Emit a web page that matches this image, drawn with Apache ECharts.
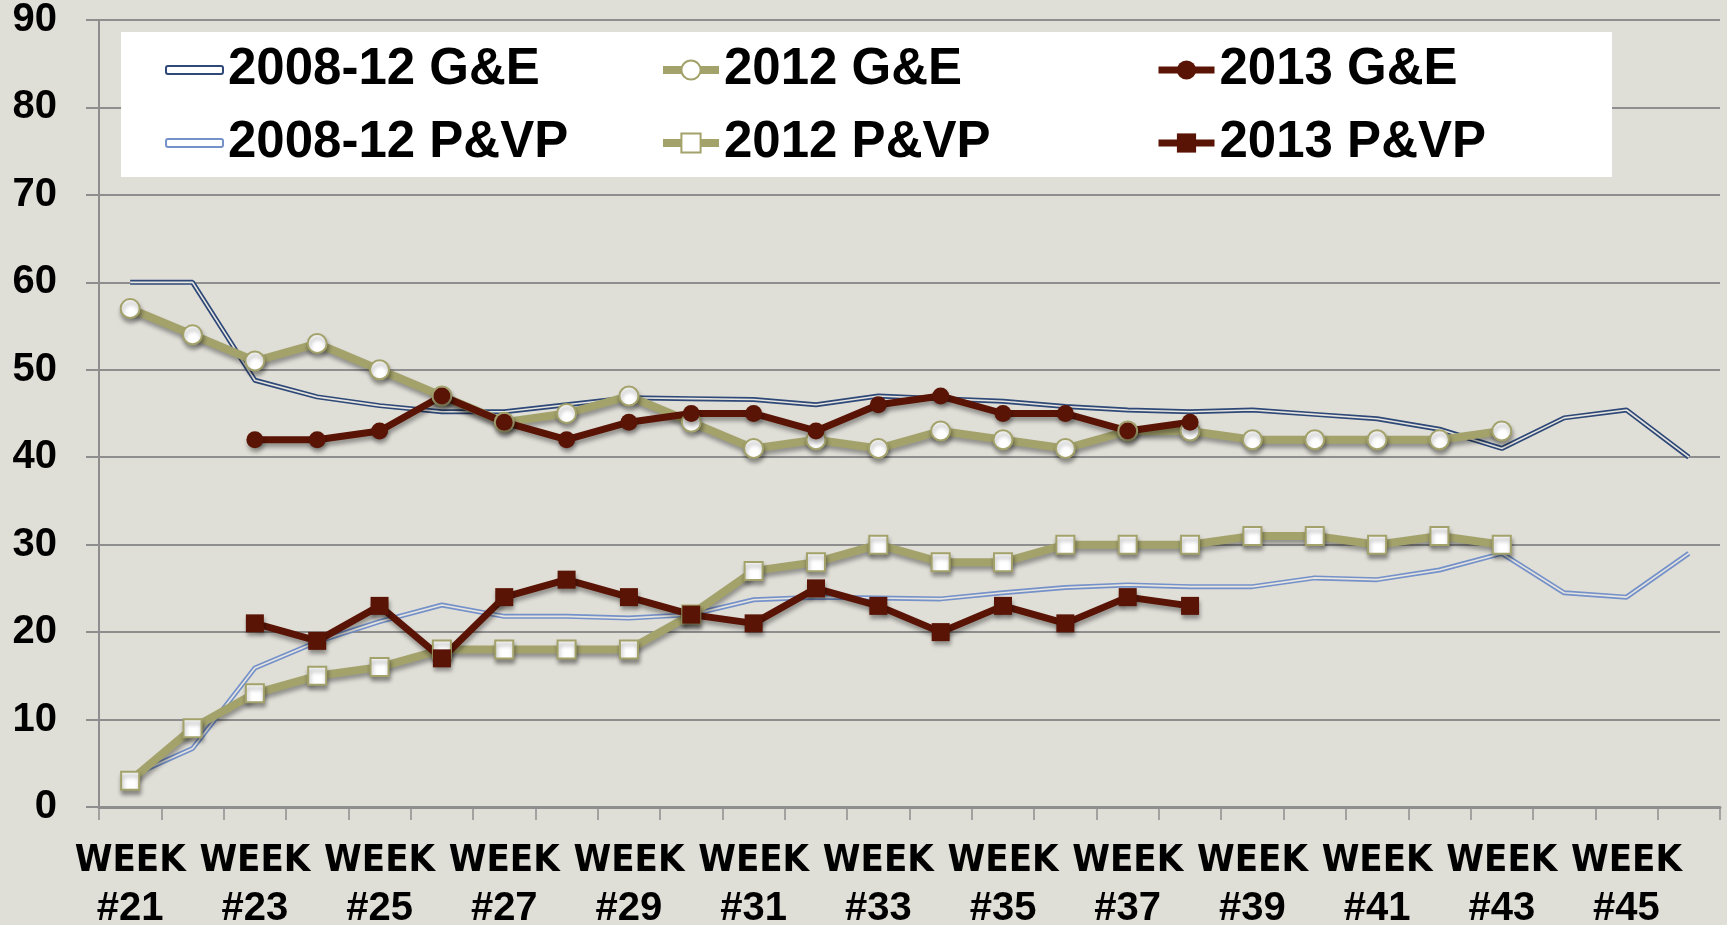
<!DOCTYPE html>
<html lang="en">
<head>
    <meta charset="UTF-8">
    <title>G&E vs P&VP by week</title>
    <script src="https://cdn.jsdelivr.net/npm/echarts@6/dist/echarts.min.js"></script>
    <style>
        html, body { margin: 0; padding: 0; background: #DFDED7; }
    </style>
</head>
<body>
    <div id="main" style="width: 1727px; height: 925px;"></div>
</body>
</html>

<script>
    var dom = document.querySelector('#main')
    var myChart = echarts.init(dom)

    // weeks #21 .. #46
    var weeks = []
    for (var w = 21; w <= 46; w++) weeks.push('WEEK #' + w)

    var ge0812 = [60, 60, 48.8, 46.9, 45.9, 45.2, 45.2, 46.0, 46.8, 46.7, 46.6, 46.0, 47.0, 46.7, 46.4, 45.8, 45.4, 45.2, 45.4, 44.9, 44.4, 43.2, 41.0, 44.5, 45.4, 40.0]
    var pvp0812 = [3.5, 6.7, 15.9, 18.9, 21.2, 23.1, 21.8, 21.8, 21.6, 22.0, 23.7, 24.0, 23.9, 23.8, 24.5, 25.1, 25.4, 25.2, 25.2, 26.2, 26.0, 27.1, 29.0, 24.5, 24.0, 29.0]
    var ge2012 = [57, 54, 51, 53, 50, 47, 44, 45, 47, 44, 41, 42, 41, 43, 42, 41, 43, 43, 42, 42, 42, 42, 43, '-', '-', '-']
    var pvp2012 = [3, 9, 13, 15, 16, 18, 18, 18, 18, 22, 27, 28, 30, 28, 28, 30, 30, 30, 31, 31, 30, 31, 30, '-', '-', '-']
    var ge2013 = ['-', '-', 42, 42, 43, 47, 44, 42, 44, 45, 45, 43, 46, 47, 45, 45, 43, 44, '-', '-', '-', '-', '-', '-', '-', '-']
    var pvp2013 = ['-', '-', 21, 19, 23, 17, 24, 26, 24, 22, 21, 25, 23, 20, 23, 21, 24, 23, '-', '-', '-', '-', '-', '-', '-', '-']

    var bg = '#DFDED7'
    var navy = '#2E4877'
    var lightBlue = '#7591C9'
    var olive = '#A3A26B'
    var maroon = '#5A1405'
    var gridGray = '#8E8E8E'
    var font = 'Liberation Sans, Arial, sans-serif'
    var narrow = 'DejaVu Sans Condensed, Liberation Sans, sans-serif'

    var shadow = { shadowColor: 'rgba(0,0,0,0.35)', shadowBlur: 4, shadowOffsetX: 1, shadowOffsetY: 4 }

    // the 2008-12 lines look like a hollow double line: wide stroke + thin inner stroke
    function hollowLine(name, data, color) {
        return [{
            name: name, type: 'line', data: data, symbol: 'none',
            lineStyle: { color: color, width: 5 }, itemStyle: { color: color },
            silent: true
        }, {
            name: name + ' inner', type: 'line', data: data, symbol: 'none',
            lineStyle: { color: '#E6E5DF', width: 1.6 }, silent: true
        }]
    }

    var legendText = { fontFamily: font, fontWeight: 'bold', fontSize: 51, color: '#000', lineHeight: 52 }

    function legendCol(left, names) {
        return {
            orient: 'vertical', left: left, top: 44, padding: 0,
            itemWidth: 56, itemHeight: 24, itemGap: 21,
            data: names,
            selectedMode: false,
            lineStyle: { width: 'inherit' },
            textStyle: legendText,
            z: 6
        }
    }

    var option = {
        backgroundColor: bg,
        animation: false,
        graphic: [{
            type: 'rect', left: 121, top: 32, z: 3,
            shape: { width: 1491, height: 145 },
            style: { fill: '#fff' }
        }],
        legend: [
            {
                orient: 'vertical', left: 165, top: 44, padding: 0,
                itemWidth: 57, itemHeight: 8, itemGap: 21, selectedMode: false,
                data: [
                    { name: '2008-12 G&E', icon: 'roundRect', itemStyle: { color: '#fff', borderColor: navy, borderWidth: 2 } },
                    { name: '2008-12 P&VP', icon: 'roundRect', itemStyle: { color: '#fff', borderColor: lightBlue, borderWidth: 2 } }
                ],
                textStyle: legendText,
                z: 6
            },
            legendCol(659, ['2012 G&E', '2012 P&VP']),
            legendCol(1155, ['2013 G&E', '2013 P&VP'])
        ],
        grid: { left: 99, right: 7, top: 20, bottom: 118, outerBoundsMode: 'none' },
        xAxis: {
            type: 'category',
            data: weeks,
            boundaryGap: true,
            axisLine: { lineStyle: { color: gridGray, width: 3 } },
            axisTick: { show: true, interval: 0, length: 13, lineStyle: { color: gridGray, width: 1.5 } },
            axisLabel: {
                interval: 1,
                margin: 30,
                color: '#000',
                formatter: function (v) {
                    var p = v.split(' ')
                    return '{w|' + p[0] + '}\n{n|' + p[1] + '}'
                },
                rich: {
                    w: { fontFamily: narrow, fontWeight: 'bold', fontSize: 38, lineHeight: 48, color: '#000' },
                    n: { fontFamily: font, fontWeight: 'bold', fontSize: 40, lineHeight: 48, color: '#000' }
                }
            },
            splitLine: { show: false }
        },
        yAxis: {
            type: 'value',
            min: 0, max: 90, interval: 10,
            axisLine: { show: true, lineStyle: { color: gridGray, width: 2 } },
            axisTick: { show: true, length: 13, lineStyle: { color: gridGray, width: 2 } },
            axisLabel: { margin: 42, fontFamily: font, fontWeight: 'bold', fontSize: 40, color: '#000' },
            splitLine: { lineStyle: { color: gridGray, width: 2 } }
        },
        series: [].concat(
            hollowLine('2008-12 G&E', ge0812, navy),
            hollowLine('2008-12 P&VP', pvp0812, lightBlue),
            [{
                name: '2012 G&E', type: 'line', data: ge2012,
                symbol: 'circle', symbolSize: 19,
                lineStyle: Object.assign({ color: olive, width: 8 }, shadow),
                itemStyle: Object.assign({ color: '#fff', borderColor: olive, borderWidth: 2 }, shadow)
            }, {
                name: '2012 P&VP', type: 'line', data: pvp2012,
                symbol: 'rect', symbolSize: 18,
                lineStyle: Object.assign({ color: olive, width: 8 }, shadow),
                itemStyle: Object.assign({ color: '#fff', borderColor: olive, borderWidth: 2 }, shadow)
            }, {
                name: '2013 G&E', type: 'line', data: ge2013,
                symbol: 'circle', symbolSize: 17,
                lineStyle: Object.assign({ color: maroon, width: 7 }, shadow),
                itemStyle: Object.assign({ color: maroon }, shadow)
            }, {
                name: '2013 P&VP', type: 'line', data: pvp2013,
                symbol: 'rect', symbolSize: 18,
                lineStyle: Object.assign({ color: maroon, width: 7 }, shadow),
                itemStyle: Object.assign({ color: maroon }, shadow)
            }]
        )
    }

    myChart.setOption(option)
</script>
